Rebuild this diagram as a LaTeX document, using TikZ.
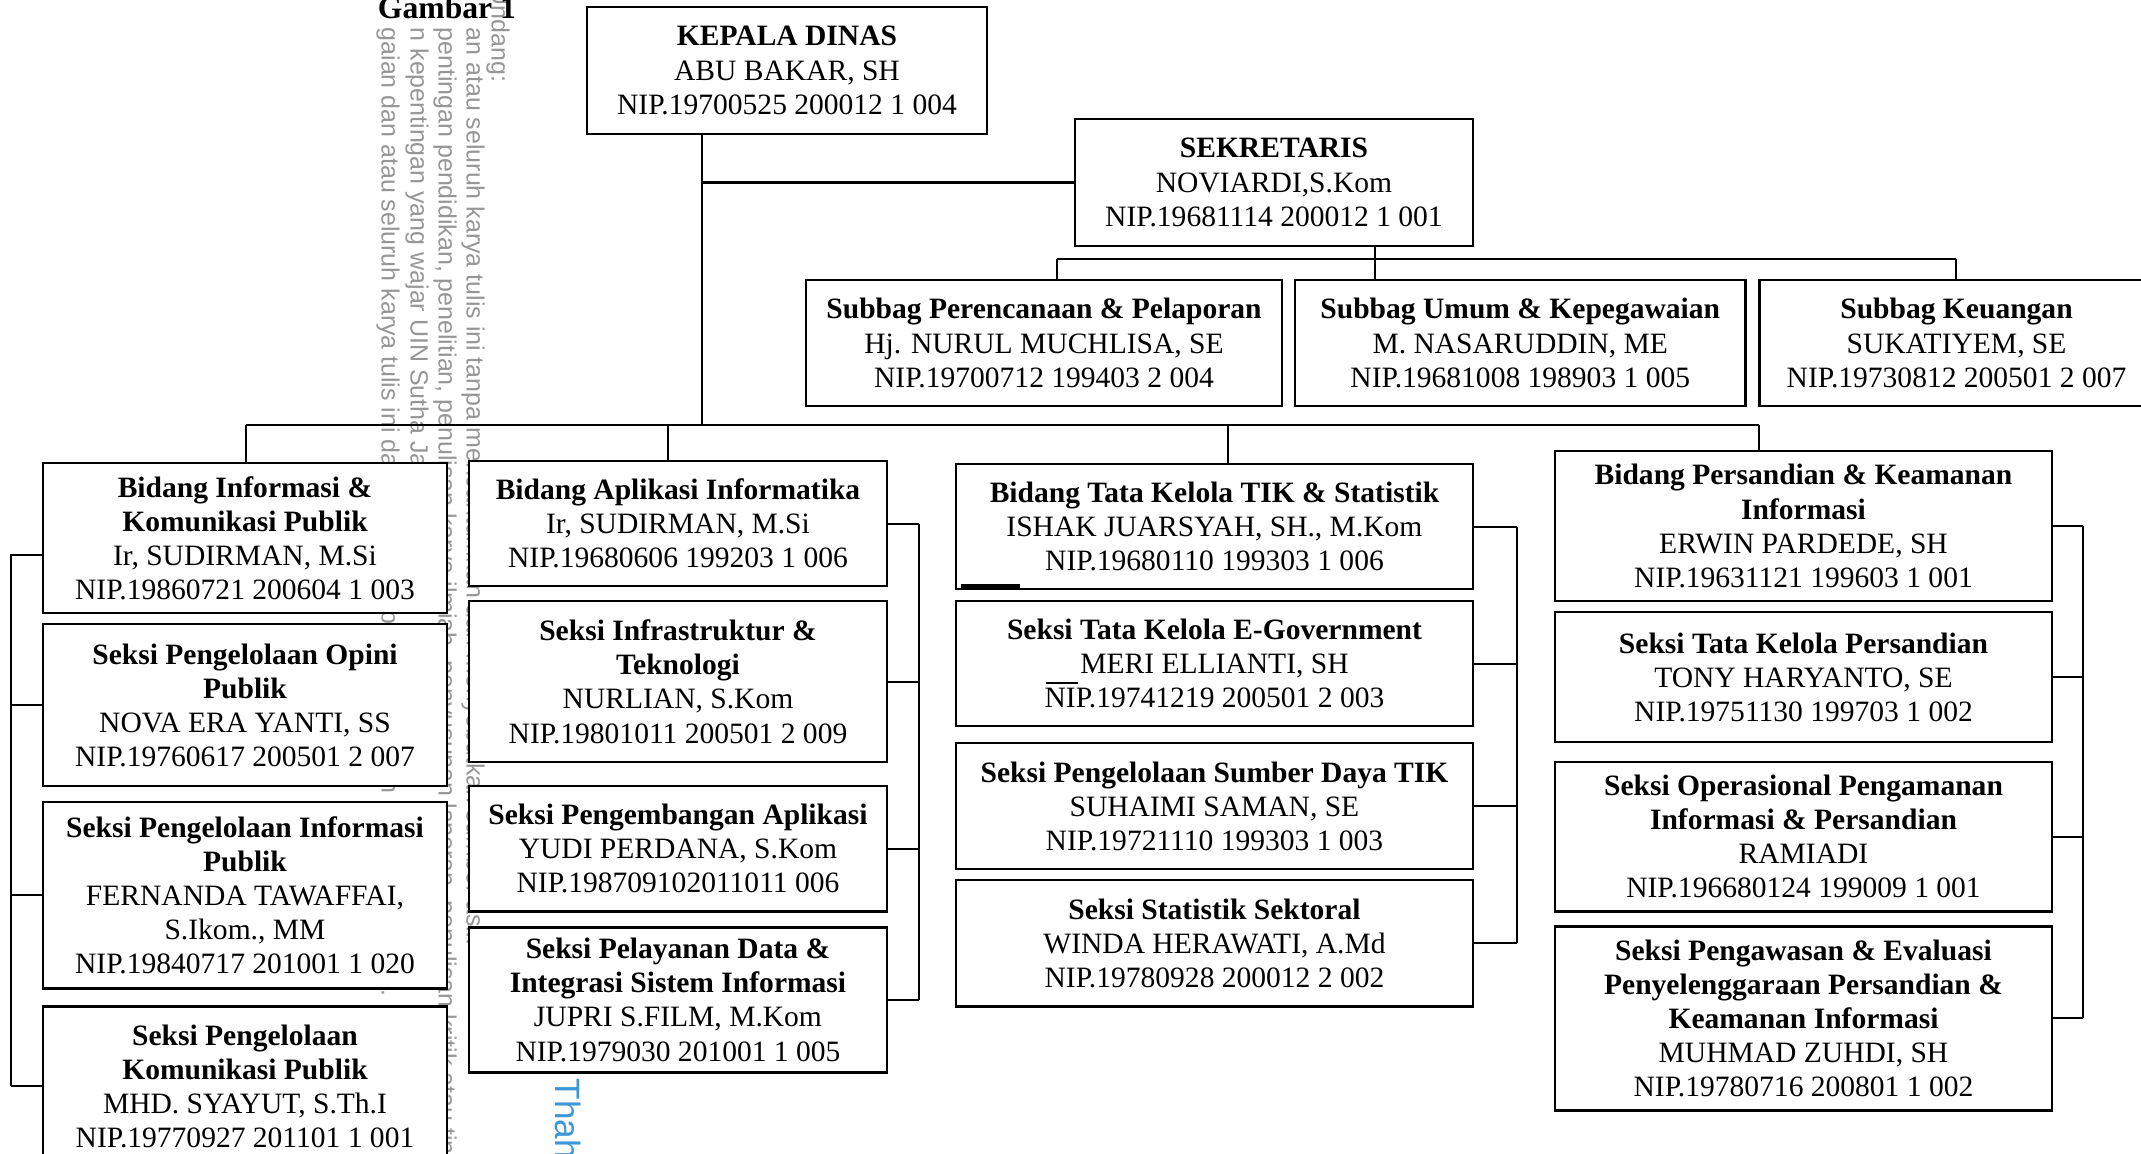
\documentclass[tikz,border=0pt]{standalone}
\usepackage{fontspec}
\setmainfont{Liberation Serif}
\newfontfamily\wmfont{Liberation Sans}
\usetikzlibrary{positioning, calc}
\definecolor{cWm}{RGB}{150,150,150}
\definecolor{cWmBlue}{RGB}{60,150,215}
\tikzset{
	kotak/.style ={rectangle, draw=black, line width=0.7pt, fill=white, align=center, inner sep=0pt, outer sep=0pt, font=\fontsize{8.4}{9.7}\selectfont},
	garis/.style ={line width=0.6pt},
	wm/.style    ={rotate=-90, inner sep=0pt, text=cWm, font=\wmfont\fontsize{7.1}{8}\selectfont},
}

\begin{document}
\begin{tikzpicture}[x=0.01cm, y=0.01cm, node distance=0.11cm]
	\useasboundingbox (0,0) rectangle (2141,-1153);
	% watermark behind the chart
	\node[wm, anchor=east] (wm1) at (498,-83) {Undang-Undang:};
	\node[wm, anchor=west] (wm2) at (473,-27) {an atau seluruh karya tulis ini tanpa mencantumkan dan menyebutkan sumber asli:};
	\node[wm, anchor=west] (wm3) at (445,-27) {pentingan pendidikan, penelitian, penulisan karya ilmiah, penyusunan laporan, penulisan kritik atau tinjauan suatu masalah.};
	\node[wm, anchor=west] (wm4) at (417,-27) {n kepentingan yang wajar UIN Sutha Jambi.};
	\node[wm, anchor=west] (wm5) at (388,-27) {gaian dan atau seluruh karya tulis ini dalam bentuk apapun tanpa izin UIN Sutha Jambi.};
	\node[wm, anchor=west, text=cWmBlue, font=\wmfont\fontsize{10}{12}\selectfont] (wm6) at (568,-1078) {Thaha};
	\node[font=\bfseries\fontsize{9}{11}\selectfont, anchor=base, inner sep=0pt] (judul) at (447,-18) {Gambar 1};

	% pimpinan
	\node[kotak, minimum width=4cm, minimum height=1.27cm] (kadis) at (787,-70.5) {\textbf{KEPALA DINAS}\\ABU BAKAR, SH\\NIP.19700525 200012 1 004};
	\node[kotak, minimum width=3.98cm, minimum height=1.27cm] (sek) at (1274,-182.5) {\textbf{SEKRETARIS}\\NOVIARDI,S.Kom\\NIP.19681114 200012 1 001};
	\node[kotak, minimum width=4.76cm, minimum height=1.26cm] (sub1) at (1044,-343) {\textbf{Subbag Perencanaan \& Pelaporan}\\Hj. NURUL MUCHLISA, SE\\NIP.19700712 199403 2 004};
	\node[kotak, minimum width=4.5cm, minimum height=1.26cm, right=0.13cm of sub1] (sub2) {\textbf{Subbag Umum \& Kepegawaian}\\M. NASARUDDIN, ME\\NIP.19681008 198903 1 005};
	\node[kotak, minimum width=3.94cm, minimum height=1.26cm, right=0.14cm of sub2] (sub3) {\textbf{Subbag Keuangan}\\SUKATIYEM, SE\\NIP.19730812 200501 2 007};

	% bidang informasi
	\node[kotak, minimum width=4.04cm, minimum height=1.5cm, anchor=north] (b1) at (245,-463) {\textbf{Bidang Informasi \&}\\\textbf{Komunikasi Publik}\\Ir, SUDIRMAN, M.Si\\NIP.19860721 200604 1 003};
	\node[kotak, minimum width=4.04cm, minimum height=1.62cm, below=0.11cm of b1] (s1a) {\textbf{Seksi Pengelolaan Opini}\\\textbf{Publik}\\NOVA ERA YANTI, SS\\NIP.19760617 200501 2 007};
	\node[kotak, minimum width=4.04cm, minimum height=1.86cm, below=0.16cm of s1a] (s1b) {\textbf{Seksi Pengelolaan Informasi}\\\textbf{Publik}\\FERNANDA TAWAFFAI,\\S.Ikom., MM\\NIP.19840717 201001 1 020};
	\node[kotak, minimum width=4.04cm, minimum height=1.6cm, below=0.18cm of s1b] (s1c) {\textbf{Seksi Pengelolaan}\\\textbf{Komunikasi Publik}\\MHD. SYAYUT, S.Th.I\\NIP.19770927 201101 1 001};

	% bidang aplikasi
	\node[kotak, minimum width=4.18cm, minimum height=1.25cm, anchor=north] (b2) at (678,-461) {\textbf{Bidang Aplikasi Informatika}\\Ir, SUDIRMAN, M.Si\\NIP.19680606 199203 1 006};
	\node[kotak, minimum width=4.18cm, minimum height=1.61cm, below=0.15cm of b2] (s2a) {\textbf{Seksi Infrastruktur \&}\\\textbf{Teknologi}\\NURLIAN, S.Kom\\NIP.19801011 200501 2 009};
	\node[kotak, minimum width=4.18cm, minimum height=1.25cm, below=0.24cm of s2a] (s2b) {\textbf{Seksi Pengembangan Aplikasi}\\YUDI PERDANA, S.Kom\\NIP.198709102011011 006};
	\node[kotak, minimum width=4.18cm, minimum height=1.45cm, below=0.16cm of s2b] (s2c) {\textbf{Seksi Pelayanan Data \&}\\\textbf{Integrasi Sistem Informasi}\\JUPRI S.FILM, M.Kom\\NIP.1979030 201001 1 005};

	% bidang tata kelola
	\node[kotak, minimum width=5.17cm, minimum height=1.25cm, anchor=north] (b3) at (1214.5,-464) {\textbf{Bidang Tata Kelola TIK \& Statistik}\\ISHAK JUARSYAH, SH., M.Kom\\NIP.19680110 199303 1 006};
	\node[kotak, minimum width=5.17cm, minimum height=1.25cm, below=0.12cm of b3] (s3a) {\textbf{Seksi Tata Kelola E-Government}\\MERI ELLIANTI, SH\\NIP.19741219 200501 2 003};
	\node[kotak, minimum width=5.17cm, minimum height=1.26cm, below=0.17cm of s3a] (s3b) {\textbf{Seksi Pengelolaan Sumber Daya TIK}\\SUHAIMI SAMAN, SE\\NIP.19721110 199303 1 003};
	\node[kotak, minimum width=5.17cm, minimum height=1.26cm, below=0.11cm of s3b] (s3c) {\textbf{Seksi Statistik Sektoral}\\WINDA HERAWATI, A.Md\\NIP.19780928 200012 2 002};

	% bidang persandian
	\node[kotak, minimum width=4.97cm, minimum height=1.5cm, anchor=north] (b4) at (1803.5,-451) {\textbf{Bidang Persandian \& Keamanan}\\\textbf{Informasi}\\ERWIN PARDEDE, SH\\NIP.19631121 199603 1 001};
	\node[kotak, minimum width=4.97cm, minimum height=1.3cm, below=0.11cm of b4] (s4a) {\textbf{Seksi Tata Kelola Persandian}\\TONY HARYANTO, SE\\NIP.19751130 199703 1 002};
	\node[kotak, minimum width=4.97cm, minimum height=1.49cm, below=0.2cm of s4a] (s4b) {\textbf{Seksi Operasional Pengamanan}\\\textbf{Informasi \& Persandian}\\RAMIADI\\NIP.196680124 199009 1 001};
	\node[kotak, minimum width=4.97cm, minimum height=1.84cm, below=0.15cm of s4b] (s4c) {\textbf{Seksi Pengawasan \& Evaluasi}\\\textbf{Penyelenggaraan Persandian \&}\\\textbf{Keamanan Informasi}\\MUHMAD ZUHDI, SH\\NIP.19780716 200801 1 002};

	% garis komando
	\coordinate (kd) at (702,-425);
	\coordinate (busL) at (246,-425);
	\coordinate (busR) at (1759,-425);
	\coordinate (d2) at (668,-425);
	\coordinate (d3) at (1228,-425);
	\coordinate (sbL) at (1057,-259);
	\coordinate (sbR) at (1956,-259);
	\coordinate (sm) at (1375,-259);
	\draw[garis] (kadis.south -| kd) -- (kd);
	\draw[garis] (sek.west) -- (sek.west -| kd);
	\draw[garis] (busL) -- (busR);
	\draw[garis] (busL) -- (busL |- b1.north);
	\draw[garis] (d2) -- (d2 |- b2.north);
	\draw[garis] (d3) -- (d3 |- b3.north);
	\draw[garis] (busR) -- (busR |- b4.north);
	\draw[garis] (sbL) -- (sbR);
	\draw[garis] (sek.south -| sm) -- (sm |- sub2.north);
	\draw[garis] (sbL) -- (sbL |- sub1.north);
	\draw[garis] (sbR) -- (sbR |- sub3.north);

	% garis seksi
	\coordinate (k1) at (11,0);
	\coordinate (k2) at (919,0);
	\coordinate (k3) at (1517,0);
	\coordinate (k4) at (2083,0);
	\foreach \n in {s1a,s1b,s1c} \draw[garis] (\n.west) -- (\n.west -| k1);
	\draw[garis] ([yshift=-0.17cm]b1.west) -| (k1 |- s1c.west);
	\foreach \n in {b2,s2a,s2b,s2c} \draw[garis] (\n.east) -- (\n.east -| k2);
	\draw[garis] (k2 |- b2.east) -- (k2 |- s2c.east);
	\foreach \n in {b3,s3a,s3b,s3c} \draw[garis] (\n.east) -- (\n.east -| k3);
	\draw[garis] (k3 |- b3.east) -- (k3 |- s3c.east);
	\foreach \n in {b4,s4a,s4b,s4c} \draw[garis] (\n.east) -- (\n.east -| k4);
	\draw[garis] (k4 |- b4.east) -- (k4 |- s4c.east);

	% goresan kecil
	\draw[line width=1.4pt] ([shift={(5,3)}]b3.south west) -- ++(59,0);
	\draw[garis] ([shift={(90,43)}]s3a.south west) -- ++(32,0);
\end{tikzpicture}
\end{document}
